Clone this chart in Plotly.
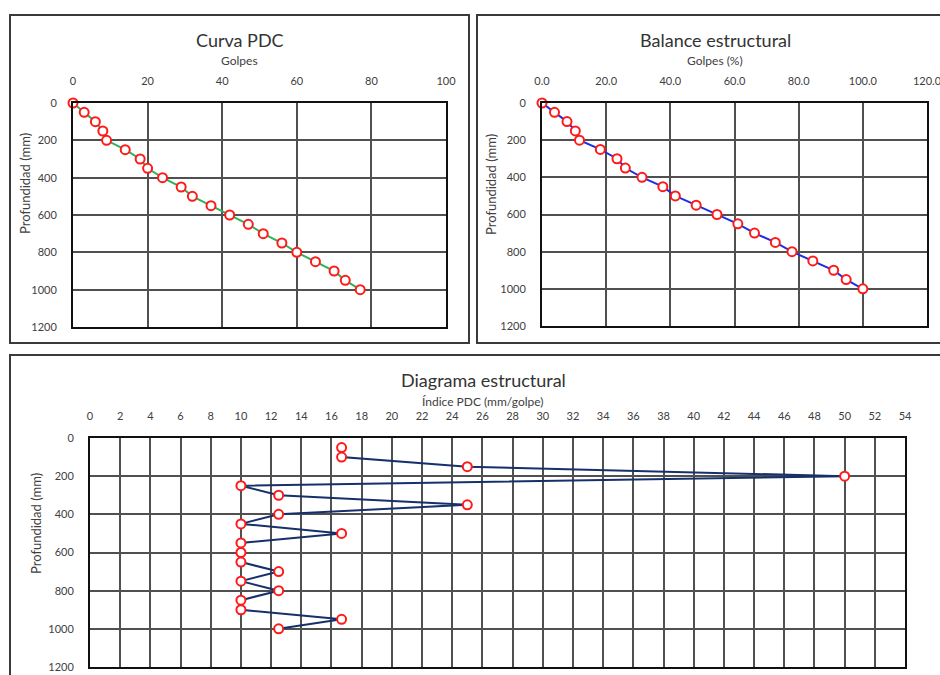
import plotly.graph_objects as go

# Ensayo de penetración dinámica de cono (PDC)
profundidad = [0, 50, 100, 150, 200, 250, 300, 350, 400, 450, 500,
               550, 600, 650, 700, 750, 800, 850, 900, 950, 1000]
golpes_acum = [0, 3, 6, 8, 9, 14, 18, 20, 24, 29, 32,
               37, 42, 47, 51, 56, 60, 65, 70, 73, 77]
golpes_pct = [g / golpes_acum[-1] * 100 for g in golpes_acum]

prof_indice = profundidad[1:]
indice_pdc = [16.67, 16.67, 25.0, 50.0, 10.0, 12.5, 25.0, 12.5, 10.0, 16.67,
              10.0, 10.0, 10.0, 12.5, 10.0, 12.5, 10.0, 10.0, 16.67, 12.5]

W, H = 940, 675
FONT = "Lato"
TXT = "#404040"


def px(x):
    return x / W


def py(y):
    return 1 - y / H


marker = dict(symbol="circle", size=9, color="white",
              line=dict(color="#ff1a1a", width=2))

fig = go.Figure()
fig.add_trace(go.Scatter(x=golpes_acum, y=profundidad, mode="lines+markers",
                         line=dict(color="#2db35a", width=2), marker=marker,
                         cliponaxis=False,
                         xaxis="x", yaxis="y", showlegend=False))
fig.add_trace(go.Scatter(x=golpes_pct, y=profundidad, mode="lines+markers",
                         line=dict(color="#1f2fe0", width=2), marker=marker,
                         cliponaxis=False,
                         xaxis="x2", yaxis="y2", showlegend=False))
fig.add_trace(go.Scatter(x=indice_pdc, y=prof_indice, mode="lines+markers",
                         line=dict(color="#16306b", width=2), marker=marker,
                         cliponaxis=False,
                         xaxis="x3", yaxis="y3", showlegend=False))

grid = dict(showgrid=True, gridcolor="#505050", gridwidth=2,
            showline=True, linecolor="#111", linewidth=2, mirror=True,
            zeroline=False, ticks="outside", ticklen=12, automargin=False,
            tickcolor="rgba(0,0,0,0)", ticklabeloverflow="allow",
            tickfont=dict(family=FONT, size=11, color=TXT))

fig.update_layout(
    width=W, height=H,
    margin=dict(l=0, r=0, t=0, b=0, pad=0, autoexpand=False),
    paper_bgcolor="white", plot_bgcolor="white",
    xaxis=dict(grid, domain=[px(73), px(446)], range=[0, 100], dtick=20,
               side="top", anchor="y"),
    yaxis=dict(grid, domain=[py(327), py(103)], range=[1200, 0], dtick=200,
               anchor="x"),
    xaxis2=dict(grid, domain=[px(542), px(927)], range=[0, 120], dtick=20,
                tickformat=".1f", side="top", anchor="y2"),
    yaxis2=dict(grid, domain=[py(326), py(103)], range=[1200, 0], dtick=200,
                anchor="x2"),
    xaxis3=dict(grid, domain=[px(90), px(905)], range=[0, 54], dtick=2,
                side="top", anchor="y3"),
    yaxis3=dict(grid, domain=[py(667), py(438)], range=[1200, 0], dtick=200,
                anchor="x3"),
)

# Marcos de cada gráfico
for x0, y0, x1, y1 in [(10, 15, 469, 343), (477, 15, 945, 343),
                       (10, 355, 945, 680)]:
    fig.add_shape(type="rect", xref="paper", yref="paper",
                  x0=px(x0), y0=py(y1), x1=px(x1), y1=py(y0),
                  line=dict(color="#3a3a3a", width=2), layer="below")


def texto(x, y, t, size, angle=0, color=TXT):
    fig.add_annotation(x=px(x), y=py(y), xref="paper", yref="paper", text=t,
                       showarrow=False, textangle=angle,
                       font=dict(family=FONT, size=size, color=color),
                       xanchor="center", yanchor="middle")


texto(240, 40, "Curva PDC", 18, color="#333")
texto(240, 61, "Golpes", 12)
texto(715, 40, "Balance estructural", 18, color="#333")
texto(715, 61, "Golpes (%)", 12)
texto(483, 380, "Diagrama estructural", 18, color="#333")
texto(483, 401, "Índice PDC (mm/golpe)", 12)
texto(25, 184, "Profundidad (mm)", 13, angle=-90)
texto(491, 184, "Profundidad (mm)", 13, angle=-90)
texto(36, 524, "Profundidad (mm)", 13, angle=-90)

fig.write_html("out.html")
